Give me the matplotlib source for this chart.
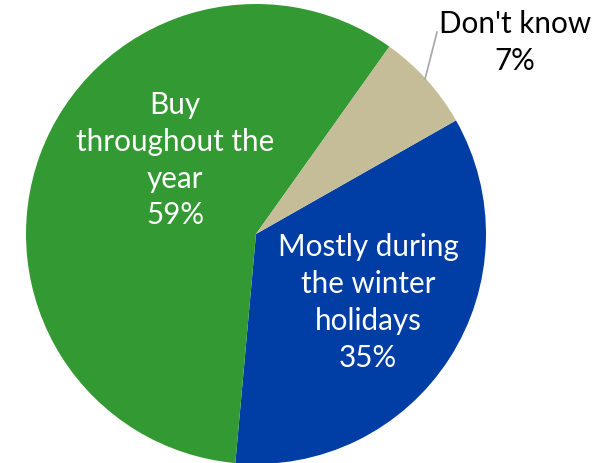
import matplotlib
matplotlib.use("Agg")
import matplotlib.pyplot as plt

categories = ["Mostly during\nthe winter\nholidays", "Buy\nthroughout the\nyear", "Don't know"]
values = [35, 59, 7]
colors = ["#003DA5", "#339933", "#C4BD97"]

plt.rcParams['font.family'] = ['Lato', 'DejaVu Sans']

fig = plt.figure(figsize=(6.01, 4.64), dpi=100)
ax = fig.add_axes([(256 - 230) / 601, (229 - 230) / 464, 460 / 601, 460 / 464])
ax.pie(values, colors=colors, startangle=29.6, counterclock=False, radius=1,
       wedgeprops=dict(linewidth=0))
ax.set_xlim(-1, 1)
ax.set_ylim(-1, 1)
ax.set_aspect('equal')
ax.axis('off')

fs = 21.3
ls = 1.39
ax.text(-0.352, 0.326, f"{categories[1]}\n{values[1]}%", ha='center', va='center',
        color='white', fontsize=fs, linespacing=ls)
ax.text(0.487, -0.293, f"{categories[0]}\n{values[0]}%", ha='center', va='center',
        color='white', fontsize=fs, linespacing=ls)
ax.text(1.126, 0.839, f"{categories[2]}\n{values[2]}%", ha='center', va='center',
        color='black', fontsize=fs, linespacing=ls, clip_on=False)
ax.plot([0.735, 0.787], [0.674, 0.878], color='#A6A6A6', lw=1.2, clip_on=False)

fig.savefig("out.png", dpi=100)
